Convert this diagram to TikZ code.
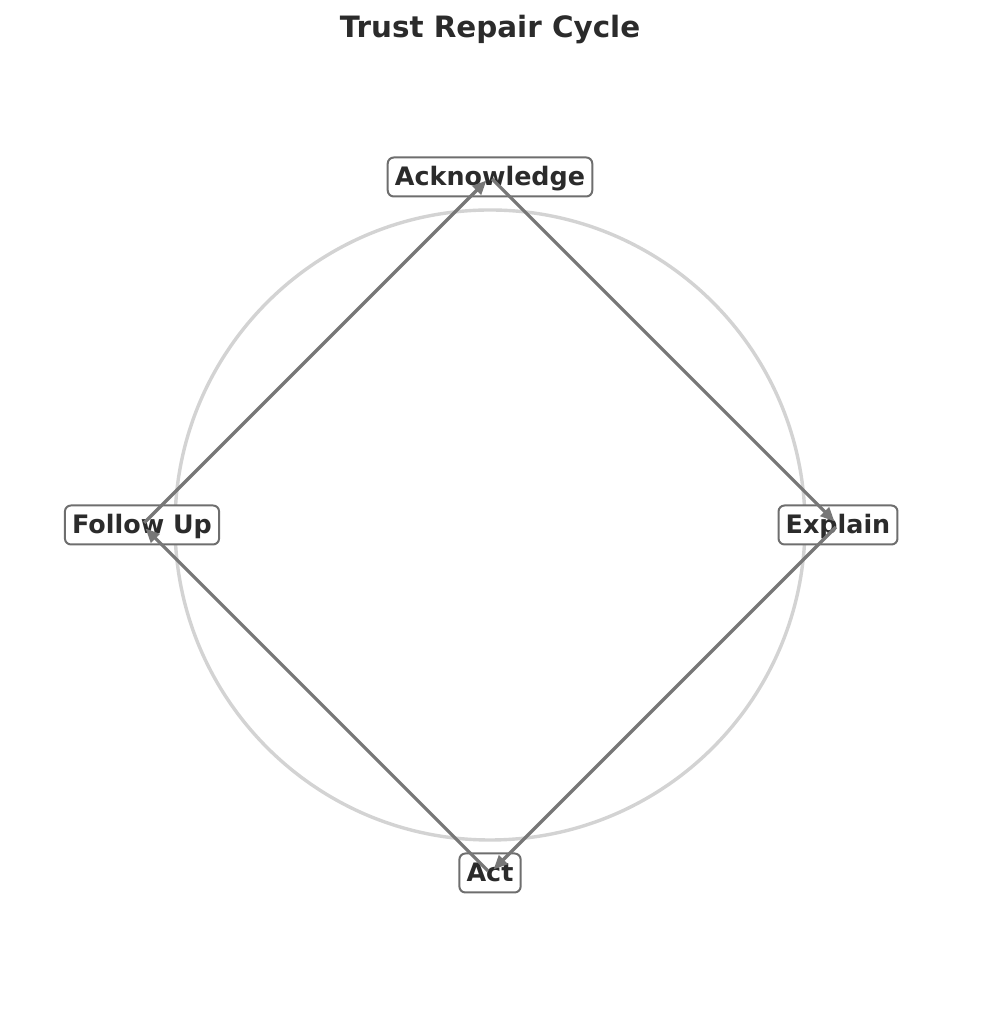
\documentclass[tikz,border=0pt]{standalone}
\usepackage{fontspec}
\setmainfont{DejaVu Sans}
\usepackage{tikz}
\usetikzlibrary{arrows.meta}

\definecolor{txtgray}{HTML}{2B2B2B}
\definecolor{boxgray}{HTML}{6E6E6E}
\definecolor{arrowgray}{HTML}{777777}
\definecolor{ringgray}{HTML}{D3D3D3}

\tikzset{
    stage/.style={draw=boxgray, line width=1pt, rounded corners=3pt, fill=white,
        text=txtgray, font=\fontsize{12.7pt}{14pt}\selectfont\bfseries,
        inner xsep=3.6pt, inner ysep=0pt, minimum height=19.5pt,
        text height=10.2pt, text depth=1.6pt},
    cyclearrow/.style={draw=arrowgray, line width=1.6pt,
        -{Triangle[length=7pt,width=6pt]}, shorten <=1.5pt, shorten >=2.5pt}
}

\begin{document}
\begin{tikzpicture}[x=0.5pt, y=0.5pt]
    \useasboundingbox (0,0) rectangle (980,1015);

    % Title
    \node[text=txtgray, font=\fontsize{14.7pt}{17pt}\selectfont\bfseries] (title) at (490,985) {Trust Repair Cycle};

    % Ring behind the cycle
    \draw[ringgray, line width=1.7pt] (490,490) circle (315);

    % Define nodes
    \node[stage] (ack) at (490,838) {Acknowledge};
    \node[stage] (exp) at (838,490) {Explain};
    \node[stage] (act) at (490,142) {Act};
    \node[stage] (fol) at (142,490) {Follow Up};

    % Draw arrows
    \draw[cyclearrow] (ack.center) -- (exp.center);
    \draw[cyclearrow] (exp.center) -- (act.center);
    \draw[cyclearrow] (act.center) -- (fol.center);
    \draw[cyclearrow] (fol.center) -- (ack.center);
\end{tikzpicture}
\end{document}
